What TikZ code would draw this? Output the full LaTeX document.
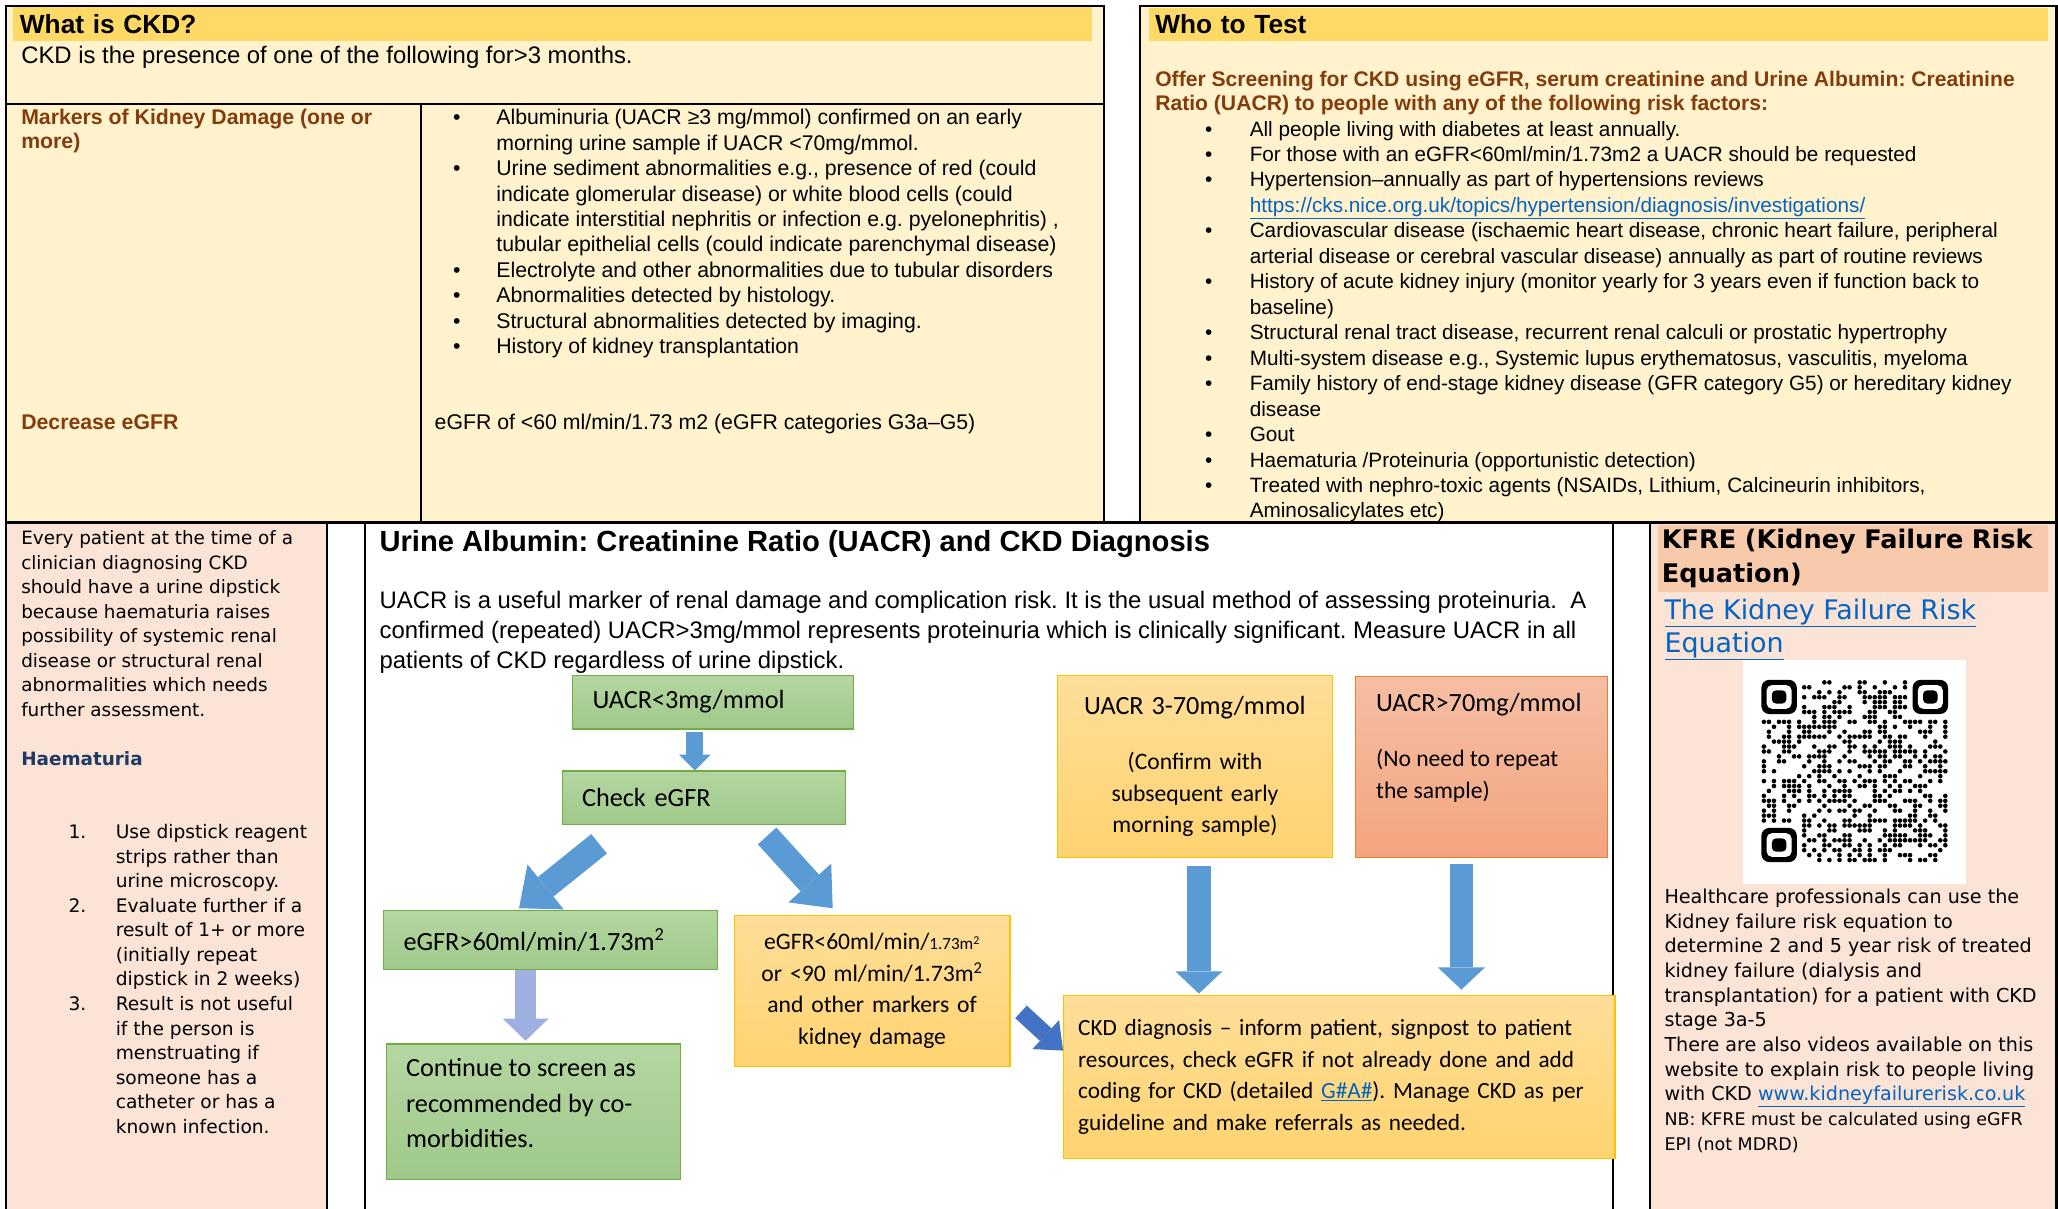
\documentclass[tikz,border=0pt]{standalone}
\usepackage{fontspec}
\setmainfont{Liberation Sans}
\newfontfamily\calib{Carlito}
\newfontfamily\verd{DejaVu Sans}
\usetikzlibrary{arrows.meta, positioning, calc}
\frenchspacing

\definecolor{headyellow}{HTML}{FFD966}
\definecolor{paleyellow}{HTML}{FFF2CC}
\definecolor{brownhead}{HTML}{843C0C}
\definecolor{palepink}{HTML}{FBE4D6}
\definecolor{kfrehead}{HTML}{F7CAAC}
\definecolor{linkblue}{HTML}{0563C1}
\definecolor{haemblue}{HTML}{1F3864}
\definecolor{greentop}{HTML}{B5D6A1}
\definecolor{greenbot}{HTML}{9FC98A}
\definecolor{greenedge}{HTML}{70AD47}
\definecolor{orangetop}{HTML}{FFDE99}
\definecolor{orangebot}{HTML}{FFD36F}
\definecolor{orangeedge}{HTML}{FFC000}
\definecolor{salmontop}{HTML}{F5BEA4}
\definecolor{salmonbot}{HTML}{F4A47F}
\definecolor{salmonedge}{HTML}{ED7D31}
\definecolor{arrowblue}{HTML}{5B9BD5}
\definecolor{darkarrow}{HTML}{4472C4}
\definecolor{lightarrow}{HTML}{9DB0E0}

% bullet and number labels hanging left of the text
\newcommand{\bull}[1][33pt]{\llap{\makebox[#1][l]{\textbullet}}}
\newcommand{\numlab}[1]{\llap{\makebox[36pt][l]{#1}}}
\newcommand{\bigline}[1]{{\fontsize{20}{24}\selectfont #1}}

\begin{document}
\begin{tikzpicture}[x=1pt, y=-1pt,
    panel/.style={draw=black, line width=1.6pt, anchor=north west, inner sep=0pt},
    band/.style={anchor=north west, inner ysep=0pt, align=left},
    txt/.style={anchor=north west, inner sep=0pt, align=left},
    body/.style={txt, font=\fontsize{16.2}{19.4}\selectfont},
    brownbold/.style={font=\bfseries\fontsize{16.2}{18.5}\selectfont, text=brownhead},
    verdtxt/.style={txt, font=\verd\fontsize{14}{18.7}\selectfont},
    flowbox/.style={anchor=north west, line width=0.9pt, inner ysep=0pt,
        font=\calib\fontsize{18}{24}\selectfont},
    greenbox/.style={flowbox, draw=greenedge, top color=greentop, bottom color=greenbot,
        inner xsep=15pt, align=left, font=\calib\fontsize{20}{24}\selectfont},
    orangebox/.style={flowbox, draw=orangeedge, top color=orangetop, bottom color=orangebot},
    salmonbox/.style={flowbox, draw=salmonedge, top color=salmontop, bottom color=salmonbot},
    smallarrow/.style={draw=arrowblue, line width=13pt, -{Triangle[width=24pt, length=12pt, line width=0pt]}},
    fatarrow/.style={draw=arrowblue, line width=19pt, -{Triangle[width=44pt, length=26pt, line width=0pt]}},
    downarrow/.style={draw=arrowblue, line width=18pt, -{Triangle[width=36pt, length=17pt, line width=0pt]}},
    paleshaft/.style={draw=lightarrow, line width=16pt, -{Triangle[width=35pt, length=17pt, line width=0pt]}},
    darkshaft/.style={draw=darkarrow, line width=13pt, -{Triangle[width=30pt, length=18pt, line width=0pt]}}
]
\useasboundingbox (0,0) rectangle (1568,921);
\fill[white] (0,0) rectangle (1568,921);

% bottom row panels
\node[panel, fill=palepink, minimum width=244, minimum height=540] (dipbox) at (4,398) {};
\node[panel, fill=white, minimum width=951, minimum height=540] (uacrbox) at (277,398) {};
\node[panel, fill=palepink, minimum width=310, minimum height=540] (kfrebox) at (1256,398) {};

% What is CKD
\node[panel, fill=paleyellow, minimum width=836, minimum height=394] (ckdbox) at (4,4) {};
\draw[line width=1.6pt] (4,79) -- (840,79);
\draw[line width=1.6pt] (321,79) -- (321,398);
\node[band, fill=headyellow, minimum width=822, minimum height=26, text width=812, inner xsep=5pt,
    font=\bfseries\fontsize{20}{24}\selectfont] (ckdhead) at (10,5) {What is CKD?};
\node[anchor=base west, inner sep=0pt, font=\fontsize{18.2}{20}\selectfont] (ckddef) at (16,48)
    {CKD is the presence of one of the following for>3 months.};
\node[txt, brownbold] (markhead) at (16,83) {Markers of Kidney Damage (one or\\more)};
\node[body] (marklist) at (378,83) {\bull Albuminuria (UACR ≥3 mg/mmol) confirmed on an early\\
    morning urine sample if UACR <70mg/mmol.\\
    \bull Urine sediment abnormalities e.g., presence of red (could\\
    indicate glomerular disease) or white blood cells (could\\
    indicate interstitial nephritis or infection e.g. pyelonephritis) ,\\
    tubular epithelial cells (could indicate parenchymal disease)\\
    \bull Electrolyte and other abnormalities due to tubular disorders\\
    \bull Abnormalities detected by histology.\\
    \bull Structural abnormalities detected by imaging.\\
    \bull History of kidney transplantation};
\node[anchor=base west, inner sep=0pt, brownbold] (egfrhead) at (16,327) {Decrease eGFR};
\node[anchor=base west, inner sep=0pt, font=\fontsize{16.2}{19.4}\selectfont] (egfrtext) at (331,327)
    {eGFR of <60 ml/min/1.73 m2 (eGFR categories G3a–G5)};

% Who to test
\node[panel, fill=paleyellow, minimum width=698, minimum height=394] (whobox) at (868,4) {};
\node[band, fill=headyellow, minimum width=685, minimum height=25, text width=675, inner xsep=5pt,
    font=\bfseries\fontsize{20}{24}\selectfont] (whohead) at (875,6) {Who to Test};
\node[txt, brownbold, font=\bfseries\fontsize{16.1}{18}\selectfont] (whointro) at (880,54)
    {Offer Screening for CKD using eGFR, serum creatinine and Urine Albumin: Creatinine\\
    Ratio (UACR) to people with any of the following risk factors:};
\node[body, font=\fontsize{15.8}{19.4}\selectfont] (wholist) at (952,92) {\bull[34pt]All people living with diabetes at least annually.\\
    \bull[34pt]For those with an eGFR<60ml/min/1.73m2 a UACR should be requested\\
    \bull[34pt]Hypertension–annually as part of hypertensions reviews\\
    {\color{linkblue}\underline{https://cks.nice.org.uk/topics/hypertension/diagnosis/investigations/}}\\
    \bull[34pt]Cardiovascular disease (ischaemic heart disease, chronic heart failure, peripheral\\
    arterial disease or cerebral vascular disease) annually as part of routine reviews\\
    \bull[34pt]History of acute kidney injury (monitor yearly for 3 years even if function back to\\
    baseline)\\
    \bull[34pt]Structural renal tract disease, recurrent renal calculi or prostatic hypertrophy\\
    \bull[34pt]Multi-system disease e.g., Systemic lupus erythematosus, vasculitis, myeloma\\
    \bull[34pt]Family history of end-stage kidney disease (GFR category G5) or hereditary kidney\\
    disease\\
    \bull[34pt]Gout\\
    \bull[34pt]Haematuria /Proteinuria (opportunistic detection)\\
    \bull[34pt]Treated with nephro-toxic agents (NSAIDs, Lithium, Calcineurin inhibitors,\\
    Aminosalicylates etc)};
\draw[line width=1.6pt] (4,398) -- (1566,398);

% Haematuria column
\node[verdtxt] (dipintro) at (16,404) {Every patient at the time of a\\
    clinician diagnosing CKD\\should have a urine dipstick\\because haematuria raises\\
    possibility of systemic renal\\disease or structural renal\\
    abnormalities which needs\\further assessment.};
\node[anchor=base west, inner sep=0pt, font=\verd\bfseries\fontsize{14}{18.7}\selectfont,
    text=haemblue] (haemhead) at (16,583) {Haematuria};
\node[verdtxt, font=\verd\fontsize{14.2}{18.7}\selectfont] (haemlist) at (88,628) {\numlab{1.}Use dipstick reagent\\strips rather than\\
    urine microscopy.\\\numlab{2.}Evaluate further if a\\result of 1+ or more\\
    (initially repeat\\dipstick in 2 weeks)\\\numlab{3.}Result is not useful\\
    if the person is\\menstruating if\\someone has a\\catheter or has a\\known infection.};

% UACR flow
\node[anchor=base west, inner sep=0pt, font=\bfseries\fontsize{22.2}{26}\selectfont] (uacrtitle) at (289,420)
    {Urine Albumin: Creatinine Ratio (UACR) and CKD Diagnosis};
\node[txt, font=\fontsize{18.2}{23}\selectfont] (uacrtext) at (289,450)
    {UACR is a useful marker of renal damage and complication risk. It is the usual method of assessing proteinuria.\ \ A\\
    confirmed (repeated) UACR>3mg/mmol represents proteinuria which is clinically significant. Measure UACR in all\\
    patients of CKD regardless of urine dipstick.};

\node[greenbox, minimum width=214, minimum height=41, text width=184] (low) at (436,514) {UACR<3mg/mmol};
\node[greenbox, minimum width=216, minimum height=41, text width=186] (check) at (428,587) {Check eGFR};
\node[greenbox, minimum width=254, minimum height=45, text width=224] (hi) at (292,693)
    {eGFR>60ml/min/1.73m\textsuperscript{2}};
\node[greenbox, minimum width=224, minimum height=103, font=\calib\fontsize{20}{27}\selectfont] (cont) at (294,795)
    {\parbox[c][81pt][t]{194pt}{Continue to screen as\\recommended by co-\\morbidities.}};
\node[orangebox, minimum width=210, minimum height=115, text width=196, inner xsep=7pt, align=center] (lo) at (559,697)
    {eGFR<60ml/min/{\fontsize{13}{24}\selectfont 1.73m\textsuperscript{2}}\\or <90 ml/min/1.73m\textsuperscript{2}\\
    and other markers of\\kidney damage};
\node[orangebox, minimum width=210, minimum height=139, text width=196, inner xsep=7pt, align=center] (mid) at (805,514)
    {\bigline{UACR 3-70mg/mmol}\\[18pt](Confirm with\\subsequent early\\morning sample)};
\node[salmonbox, minimum width=192, minimum height=138, inner xsep=16pt] (hi70) at (1032,515)
    {\parbox[c][112pt][t]{160pt}{\bigline{UACR>70mg/mmol}\\[18pt](No need to repeat\\the sample)}};
\node[orangebox, minimum width=420, minimum height=124, text width=398, inner xsep=11pt, align=left,
    font=\calib\fontsize{17.7}{24}\selectfont] (diag) at (810,758)
    {CKD diagnosis – inform patient, signpost to patient\\resources, check eGFR if not already done and add\\
    coding for CKD (detailed {\color{linkblue}\underline{G\#A\#}}). Manage CKD as per\\guideline and make referrals as needed.};

\draw[smallarrow] ([xshift=-14pt,yshift=-2pt]low.south) -- ([xshift=-14pt]low.south |- check.north);
\draw[fatarrow] ([xshift=-80pt,yshift=-14pt]check.south) -- ([xshift=-24pt,yshift=1pt]hi.north);
\draw[fatarrow] ([xshift=48pt,yshift=-8pt]check.south) -- ([xshift=-30pt,yshift=5pt]lo.north);
\draw[paleshaft] ([xshift=-19pt]hi.south) -- ([xshift=-19pt,yshift=2pt]hi.south |- cont.north);
\draw[darkshaft] ([xshift=8pt,yshift=-16pt]lo.east) -- ([xshift=0pt,yshift=20pt]diag.west);
\draw[downarrow] ([xshift=3pt,yshift=-6pt]mid.south) -- ([xshift=3pt,yshift=1pt]mid.south |- diag.north);
\draw[downarrow] ([xshift=-15pt,yshift=-4pt]hi70.south) -- ([xshift=-15pt,yshift=4pt]hi70.south |- diag.north);

% KFRE column
\node[band, fill=kfrehead, minimum width=297, minimum height=51, text width=291, inner xsep=3pt,
    font=\verd\bfseries\fontsize{19.5}{26}\selectfont] (kfrehead) at (1263,400)
    {KFRE (Kidney Failure Risk\\Equation)};
\node[txt, font=\verd\fontsize{20.5}{25}\selectfont, text=linkblue] (kfrelink) at (1268,456)
    {\underline{The Kidney Failure Risk}\\\underline{Equation}};
\node[anchor=north west, fill=white, minimum width=170, minimum height=170, inner sep=0pt] (qr) at (1328,503) {};
\pgfmathsetseed{4711}
\foreach \i in {0,...,36}{
  \foreach \j in {0,...,36}{
    \pgfmathtruncatemacro\qrdot{((\i<8 && \j<8) || (\i>28 && \j<8) || (\i<8 && \j>28)) ? 0 : (rnd<0.47 ? 1 : 0)}
    \ifnum\qrdot=1
      \fill (1343.9+\i*3.84, 519.9+\j*3.76) circle[radius=1.75pt];
    \fi
  }
}
\foreach \fx/\fy in {0/0, 30/0, 0/30}{
  \fill[rounded corners=6pt] (1342+\fx*3.84, 518+\fy*3.76) rectangle ++(27,26);
  \fill[white, rounded corners=4pt] (1346+\fx*3.84, 522+\fy*3.76) rectangle ++(19,18);
  \fill[rounded corners=3pt] (1350+\fx*3.84, 526+\fy*3.76) rectangle ++(11,10);
}
\node[verdtxt, font=\verd\fontsize{14.6}{18.8}\selectfont] (kfretext) at (1268,677)
    {Healthcare professionals can use the\\Kidney failure risk equation to\\
    determine 2 and 5 year risk of treated\\kidney failure (dialysis and\\
    transplantation) for a patient with CKD\\stage 3a-5\\
    There are also videos available on this\\website to explain risk to people living\\
    with CKD {\color{linkblue}\underline{www.kidneyfailurerisk.co.uk}}};
\node[verdtxt, font=\verd\fontsize{13.3}{19}\selectfont] (kfrenote) at (1268,847)
    {NB: KFRE must be calculated using eGFR\\EPI (not MDRD)};
\end{tikzpicture}
\end{document}
